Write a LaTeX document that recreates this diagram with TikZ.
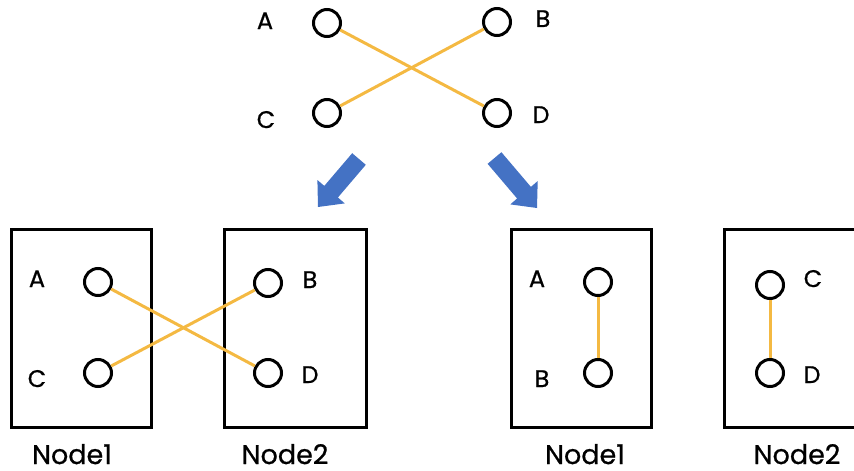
\documentclass[tikz,border=0pt]{standalone}
\usepackage{fontspec}
\setmainfont{Poppins}
\newfontfamily\heavyfont{Poppins}[FakeBold=0.7]
\definecolor{gold}{HTML}{F4B942}
\definecolor{arrblue}{HTML}{4472C4}
\begin{document}
\begin{tikzpicture}[x=1pt,y=-1pt,
  port/.style={circle,draw=black,line width=3pt,minimum size=27pt,inner sep=0pt},
  lbl/.style={font=\heavyfont\fontsize{24}{24}\selectfont,inner sep=0pt,anchor=base},
  nodecaption/.style={font=\heavyfont\fontsize{27}{27}\selectfont,inner sep=0pt,anchor=base},
  box/.style={draw=black,line width=3pt},
  link/.style={draw=gold,line width=3pt},
  blk/.style={fill=arrblue}]
\useasboundingbox (0,0) rectangle (854,471);
\clip (0,0) rectangle (854,471);
% top
\node[port] (tA) at (327,23) {};
\node[port] (tB) at (497,22) {};
\node[port] (tC) at (327,113) {};
\node[port] (tD) at (497,113) {};
\node[lbl] (ltA) at (265,29) {A};
\node[lbl] (ltB) at (543,27) {B};
\node[lbl] (ltC) at (266,128) {C};
\node[lbl] (ltD) at (541,123) {D};
\draw[link] (tA) -- (tD);
\draw[link] (tC) -- (tB);
% arrows
\fill[blk] (352.2,153.2) -- (324.3,185.9) -- (317.4,180.0) -- (318,207) -- (344.8,203.4) -- (337.9,197.5) -- (365.8,164.8) -- cycle;
\fill[blk] (501.4,152.2) -- (530.9,186.9) -- (537.7,181.0) -- (537,208) -- (510.3,204.4) -- (517.1,198.5) -- (487.6,163.8) -- cycle;
% bottom left
\draw[box] (11,229) rectangle (151,427);
\draw[box] (224,229) rectangle (366,427);
\node[port] (aA) at (98,282) {};
\node[port] (aC) at (98,373) {};
\node[port] (aB) at (268,283) {};
\node[port] (aD) at (268,373) {};
\node[lbl] (laA) at (37,287) {A};
\node[lbl] (laC) at (37,387) {C};
\node[lbl] (laB) at (310,288) {B};
\node[lbl] (laD) at (310,383) {D};
\draw[link] (aA) -- (aD);
\draw[link] (aC) -- (aB);
\node[nodecaption] (n1a) at (72,464) {Node1};
\node[nodecaption] (n2a) at (285,464) {Node2};
% bottom right
\draw[box] (511,229) rectangle (651,427);
\draw[box] (724,229) rectangle (880,427);
\node[port] (bA) at (598,282) {};
\node[port] (bB) at (598,373) {};
\node[port] (bC) at (770,285) {};
\node[port] (bD) at (770,373) {};
\node[lbl] (lbA) at (537,287) {A};
\node[lbl] (lbB) at (542,387) {B};
\node[lbl] (lbC) at (813,287) {C};
\node[lbl] (lbD) at (812,383) {D};
\draw[link] (bA) -- (bB);
\draw[link] (bC) -- (bD);
\node[nodecaption] (n1b) at (585,464) {Node1};
\node[nodecaption] (n2b) at (797,464) {Node2};
\end{tikzpicture}
\end{document}
